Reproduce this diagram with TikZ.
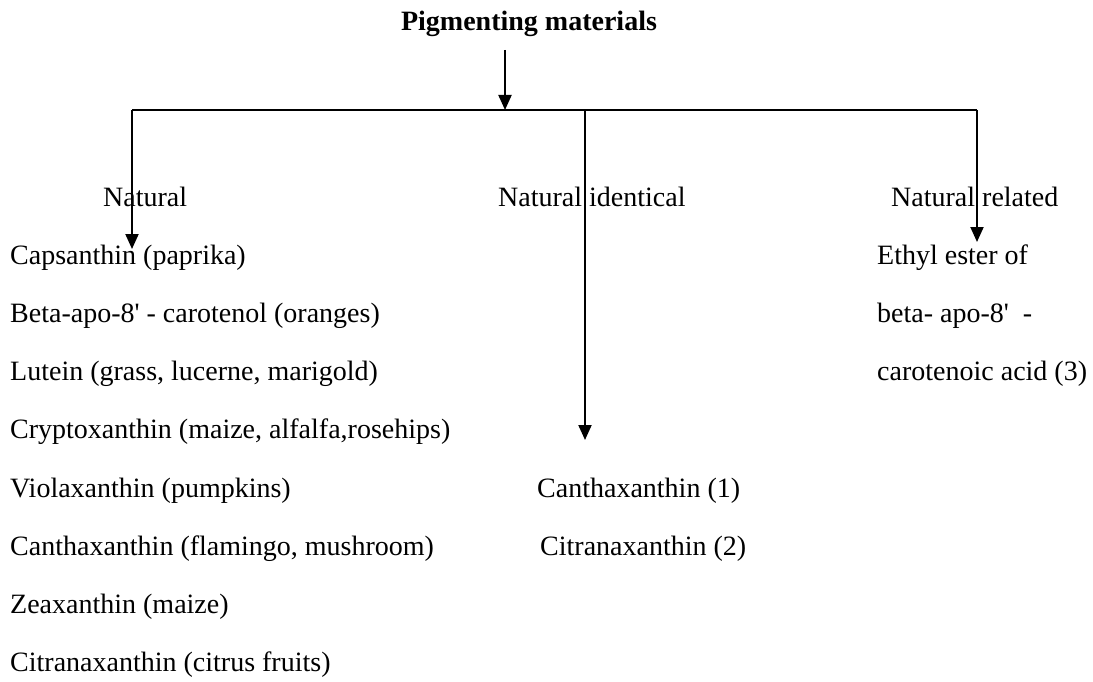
\documentclass[tikz,border=0pt]{standalone}
\usepackage{fontspec}
\setmainfont{Liberation Serif}
\usetikzlibrary{arrows.meta}
\begin{document}
\begin{tikzpicture}[x=1pt,y=-1pt,
  txt/.style={font=\fontsize{28}{30}\selectfont, inner sep=0pt, anchor=base west},
  ttl/.style={font=\fontsize{28}{30}\selectfont\bfseries, inner sep=0pt, anchor=base},
  conn/.style={line width=2pt},
  arr/.style={line width=2pt, -{Triangle[length=15pt,width=13pt]}}]
\useasboundingbox (0,0) rectangle (1093,682);
\fill[white] (0,0) rectangle (1093,682);
% title
\node[ttl] (T) at (529,31) {Pigmenting materials};
% junction coordinates
\coordinate (s0) at (505,50);
\coordinate (j0) at (505,110);
\coordinate (jL) at (132,110);
\coordinate (jM) at (585,110);
\coordinate (jR) at (977,110);
\coordinate (tL) at (132,249);
\coordinate (tM) at (585,440);
\coordinate (tR) at (977,242);
\draw[arr] (s0) -- (j0);
\draw[conn] (jL) -- (jR);
\draw[arr] (jL) -- (tL);
\draw[arr] (jM) -- (tM);
\draw[arr] (jR) -- (tR);
% category labels
\node[txt] (nat) at (103,207) {Natural};
\node[txt] (natid) at (498,207) {Natural identical};
\node[txt] (natrel) at (891,207) {Natural related};
% left list
\node[txt] (l1) at (10,264) {Capsanthin (paprika)};
\node[txt] (l2) at (10,322) {Beta-apo-8\textquotesingle\ - carotenol (oranges)};
\node[txt] (l3) at (10,380) {Lutein (grass, lucerne, marigold)};
\node[txt] (l4) at (10,438) {Cryptoxanthin (maize, alfalfa,rosehips)};
\node[txt] (l5) at (10,497) {Violaxanthin (pumpkins)};
\node[txt] (l6) at (10,555) {Canthaxanthin (flamingo, mushroom)};
\node[txt] (l7) at (10,613) {Zeaxanthin (maize)};
\node[txt] (l8) at (10,671) {Citranaxanthin (citrus fruits)};
% middle list
\node[txt] (m1) at (537,497) {Canthaxanthin (1)};
\node[txt] (m2) at (540,555) {Citranaxanthin (2)};
% right list
\node[txt] (r1) at (877,264) {Ethyl ester of};
\node[txt] (r2) at (877,322) {beta- apo-8\textquotesingle\ \ -};
\node[txt] (r3) at (877,380) {carotenoic acid (3)};
\end{tikzpicture}
\end{document}
